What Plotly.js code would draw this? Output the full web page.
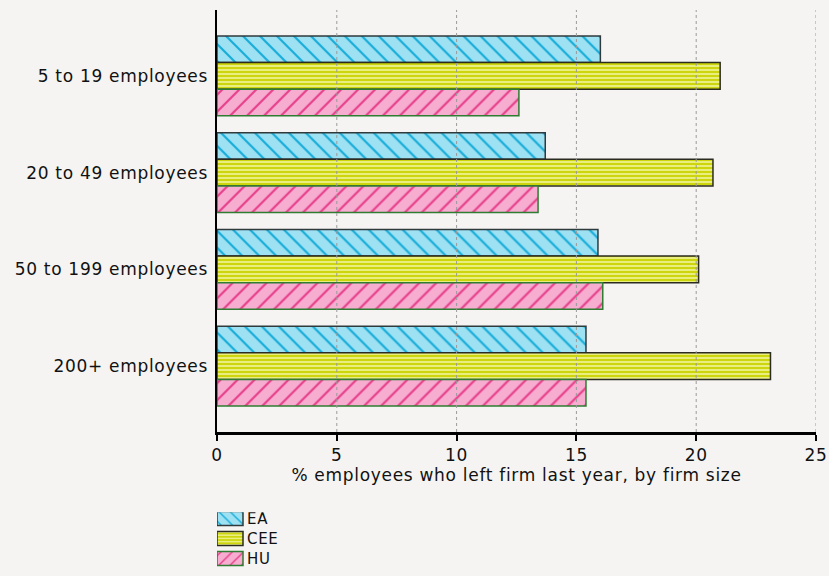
<!DOCTYPE html>
<html>
<head>
<meta charset="utf-8">
<script src="https://cdn.plot.ly/plotly-3.0.1.min.js"></script>
<style>
html,body{margin:0;padding:0;background:#f5f4f2;}
#chart{width:829px;height:576px;}
#chart text{letter-spacing:0.7px;}
</style>
</head>
<body>
<div id="chart"></div>
<script>
const categories = ["5 to 19 employees", "20 to 49 employees", "50 to 199 employees", "200+ employees"];
const seriesNames = ["EA", "CEE", "HU"];
const eaValues  = [16.0, 13.7, 15.9, 15.4];
const ceeValues = [21.0, 20.7, 20.1, 23.1];
const huValues  = [12.6, 13.4, 16.1, 15.4];
const xTicks = [0, 5, 10, 15, 20, 25];
const xTitle = "% employees who left firm last year, by firm size";

const FONT = "DejaVu Sans";

function barTrace(name, vals, shape, bg, fg, line, size, solidity) {
  return {
    type: "bar", orientation: "h", name: name,
    x: vals, y: categories,
    marker: {
      color: bg,
      line: {color: line, width: 1.5},
      pattern: {shape: shape, bgcolor: bg, fgcolor: fg, size: size, solidity: solidity, fillmode: "replace"}
    },
    hoverinfo: "x+name"
  };
}

const traces = [
  barTrace(seriesNames[0], eaValues, "\\", "#9de1f3", "#17acd8", "#2f3a3d", 12, 0.18),
  barTrace(seriesNames[1], ceeValues, "-", "#eef08c", "#cdd60a", "#2b2b22", 4, 0.55),
  barTrace(seriesNames[2], huValues, "/", "#f6add0", "#e73f8b", "#2e7d32", 12, 0.18)
];

const gridShapes = xTicks.filter(v => v > 0).map(v => ({
  type: "line", xref: "x", yref: "paper", x0: v, x1: v, y0: 0, y1: 1,
  line: {color: "#9a9a9a", width: 1, dash: "dot"}, layer: "above"
}));

const layout = {
  width: 829, height: 576,
  paper_bgcolor: "#f5f4f2", plot_bgcolor: "#f5f4f2",
  font: {family: FONT, size: 17, color: "#111"},
  margin: {l: 217, r: 13, t: 10, b: 144, autoexpand: false},
  barmode: "group", bargap: 0.175, bargroupgap: 0,
  showlegend: true,
  legend: {
    x: 0, xanchor: "left", y: -0.19, yanchor: "top",
    traceorder: "normal", bgcolor: "rgba(0,0,0,0)",
    font: {family: FONT, size: 15, color: "#111"},
    tracegroupgap: 0, itemclick: false
  },
  xaxis: {
    range: [0, 25], tickvals: xTicks, ticktext: xTicks.map(String),
    showgrid: false, zeroline: false,
    showline: true, linecolor: "#000", linewidth: 2.5,
    ticks: "outside", ticklen: 6, tickwidth: 2, tickcolor: "#000",
    tickfont: {family: FONT, size: 17, color: "#111"},
    title: {text: xTitle, font: {family: FONT, size: 17, color: "#111"}, standoff: 4},
    fixedrange: true
  },
  yaxis: {
    autorange: false, range: [3.68, -0.68], type: "category",
    showgrid: false, zeroline: false,
    showline: true, linecolor: "#000", linewidth: 2.5,
    ticks: "", ticklabelstandoff: 3,
    tickfont: {family: FONT, size: 17, color: "#111"},
    fixedrange: true
  },
  shapes: gridShapes
};

Plotly.newPlot("chart", traces, layout, {displayModeBar: false, staticPlot: true}).then(function () {
  document.querySelectorAll(".legend .legendpoints path").forEach(function (p) {
    p.setAttribute("d", "M6,7H-20V-7H6Z");
  });
  document.querySelectorAll(".legend .legendtext").forEach(function (t) {
    t.setAttribute("x", "30");
  });
  const items = document.querySelectorAll(".legend .traces");
  if (items.length) {
    const m = /translate\(\s*([-\d.]+)[ ,]+([-\d.]+)\s*\)/.exec(items[0].getAttribute("transform") || "");
    const x0 = m ? parseFloat(m[1]) : 0;
    const y0 = m ? parseFloat(m[2]) - 10 : 0;
    items.forEach(function (g, i) {
      g.setAttribute("transform", "translate(" + x0 + "," + (y0 + i * 20) + ")");
    });
  }
});
</script>
</body>
</html>
